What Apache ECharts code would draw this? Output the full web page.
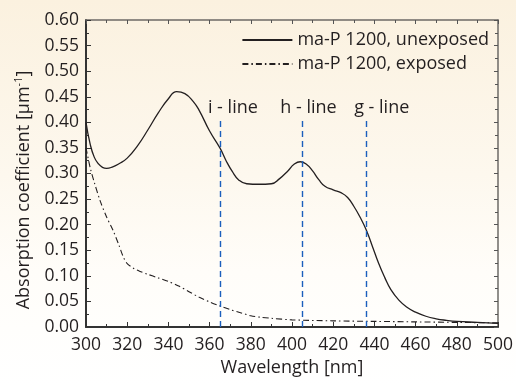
<!DOCTYPE html>
<html>
<head>
<meta charset="utf-8">
<script src="https://cdn.jsdelivr.net/npm/echarts@6/dist/echarts.min.js"></script>
<style>
  html, body { margin: 0; padding: 0; }
  body { width: 516px; height: 387px; background: linear-gradient(to bottom, #fbf1df 0%, #fdf8ee 45%, #fffdf9 70%, #ffffff 100%); }
  #chart { width: 516px; height: 387px; }
</style>
</head>
<body>
<div id="chart"></div>
<script>
// wavelength [nm] / absorption coefficient
const unexposedNm = [300, 302, 304, 306, 308, 310, 313, 316, 320, 325, 330, 335, 340, 344, 348, 352, 355, 360, 365, 368, 371, 374, 378, 384, 390, 394, 398, 401, 404, 407, 410, 413, 416, 420, 424, 427, 430, 433, 436, 439, 442, 445, 448, 452, 456, 460, 465, 470, 475, 480, 490, 500];
const unexposedVal = [0.400, 0.358, 0.332, 0.319, 0.312, 0.310, 0.313, 0.319, 0.330, 0.354, 0.385, 0.418, 0.446, 0.460, 0.456, 0.441, 0.423, 0.383, 0.350, 0.325, 0.304, 0.288, 0.280, 0.279, 0.280, 0.290, 0.305, 0.318, 0.323, 0.318, 0.305, 0.288, 0.275, 0.268, 0.262, 0.253, 0.236, 0.215, 0.190, 0.158, 0.125, 0.097, 0.073, 0.052, 0.038, 0.029, 0.021, 0.016, 0.013, 0.011, 0.009, 0.007];

const exposedNm = [300, 302, 304, 307, 310, 313, 316, 318, 320, 323, 326, 330, 335, 340, 345, 350, 355, 360, 365, 370, 375, 380, 385, 390, 400, 420, 440, 460, 480, 500];
const exposedVal = [0.350, 0.312, 0.283, 0.245, 0.215, 0.190, 0.160, 0.138, 0.124, 0.115, 0.109, 0.103, 0.096, 0.089, 0.080, 0.069, 0.058, 0.049, 0.041, 0.034, 0.028, 0.022, 0.019, 0.017, 0.014, 0.012, 0.011, 0.010, 0.009, 0.008];

// mercury lines
const lineNames = ['i - line', 'h - line', 'g - line'];
const lineNm = [365, 405, 436];
const lineTop = 0.405;
const lineLabelShift = [-12, -22, -12];

const seriesNames = ['ma-P 1200, unexposed', 'ma-P 1200, exposed'];

const FONT = 'Open Sans';
const TXT = '#231f20';

function zip(xs, ys) {
    return xs.map((x, i) => [x, ys[i]]);
}

const chart = echarts.init(document.getElementById('chart'), null, { renderer: 'canvas' });

// dashed marker lines with their labels sitting above the top end
const markData = lineNm.map((nm, i) => [
    { coord: [nm, 0] },
    {
        coord: [nm, lineTop],
        label: {
            show: true,
            position: 'end',
            formatter: lineNames[i],
            align: 'left',
            offset: [lineLabelShift[i], 0],
        }
    }
]);

const tickStyle = { color: '#333', width: 1 };

chart.setOption({
    backgroundColor: 'transparent',
    animation: false,
    textStyle: { fontFamily: FONT, color: TXT },
    grid: { left: 86, right: 16, top: 20, bottom: 60 },
    legend: {
        data: seriesNames,
        orient: 'vertical',
        right: 22,
        top: 26,
        itemWidth: 50,
        itemHeight: 10,
        itemGap: 6,
        itemStyle: { opacity: 0 },
        textStyle: { fontFamily: FONT, fontSize: 18, color: TXT },
    },
    xAxis: [{
        type: 'value',
        min: 300, max: 500, interval: 20,
        name: 'Wavelength [nm]',
        nameLocation: 'middle',
        nameGap: 26,
        nameTextStyle: { fontFamily: FONT, fontSize: 18, color: TXT, verticalAlign: 'top' },
        axisLine: { show: true, onZero: false, lineStyle: { color: '#333', width: 2 } },
        axisTick: { show: true, inside: true, length: 5, lineStyle: tickStyle },
        minorTick: { show: true, splitNumber: 2, length: 3, lineStyle: tickStyle },
        axisLabel: { fontFamily: FONT, fontSize: 17.5, color: TXT, margin: 9 },
        splitLine: { show: false },
    }, {
        type: 'value',
        position: 'top',
        min: 300, max: 500, interval: 20,
        axisLine: { show: true, onZero: false, lineStyle: { color: '#6d6a66', width: 1.5 } },
        axisTick: { show: true, inside: true, length: 4, lineStyle: { color: '#555' } },
        minorTick: { show: true, splitNumber: 2, length: 3, lineStyle: { color: '#555' } },
        axisLabel: { show: false },
        splitLine: { show: false },
    }],
    yAxis: [{
        type: 'value',
        min: 0, max: 0.6, interval: 0.05,
        axisLine: { show: true, onZero: false, lineStyle: { color: '#333', width: 2 } },
        axisTick: { show: true, inside: true, length: 5, lineStyle: tickStyle },
        minorTick: { show: true, splitNumber: 2, length: 3, lineStyle: tickStyle },
        axisLabel: {
            fontFamily: FONT, fontSize: 17.5, color: TXT, margin: 7,
            formatter: v => v.toFixed(2)
        },
        splitLine: { show: false },
    }, {
        type: 'value',
        position: 'right',
        min: 0, max: 0.6, interval: 0.05,
        axisLine: { show: true, onZero: false, lineStyle: { color: '#6d6a66', width: 1.5 } },
        axisTick: { show: true, inside: true, length: 4, lineStyle: { color: '#555' } },
        minorTick: { show: true, splitNumber: 2, length: 3, lineStyle: { color: '#555' } },
        axisLabel: { show: false },
        splitLine: { show: false },
    }],
    graphic: [{
        type: 'text',
        x: 24, y: 190,
        rotation: Math.PI / 2,
        style: {
            text: 'Absorption coefficient [µm{sup|-1}]',
            font: '18px "Open Sans"',
            fill: TXT,
            align: 'center',
            verticalAlign: 'middle',
            rich: {
                sup: { fontSize: 11, fontFamily: FONT, fill: TXT, verticalAlign: 'top', lineHeight: 22 }
            }
        }
    }],
    series: [{
        name: seriesNames[0],
        type: 'line',
        data: zip(unexposedNm, unexposedVal),
        smooth: 0.5,
        symbol: 'none',
        color: '#231f20',
        lineStyle: { color: '#231f20', width: 1.3 },
        markLine: {
            silent: true,
            symbol: 'none',
            lineStyle: { color: '#1b5fbd', width: 1.4, type: [6, 4] },
            label: { fontFamily: FONT, fontSize: 18, color: TXT, distance: 3 },
            data: markData,
        },
        z: 3,
    }, {
        name: seriesNames[1],
        type: 'line',
        data: zip(exposedNm, exposedVal),
        smooth: 0.3,
        symbol: 'none',
        color: '#231f20',
        lineStyle: { color: '#231f20', width: 1.1, type: [6, 3, 1.5, 3] },
        z: 3,
    }]
});
</script>
</body>
</html>
